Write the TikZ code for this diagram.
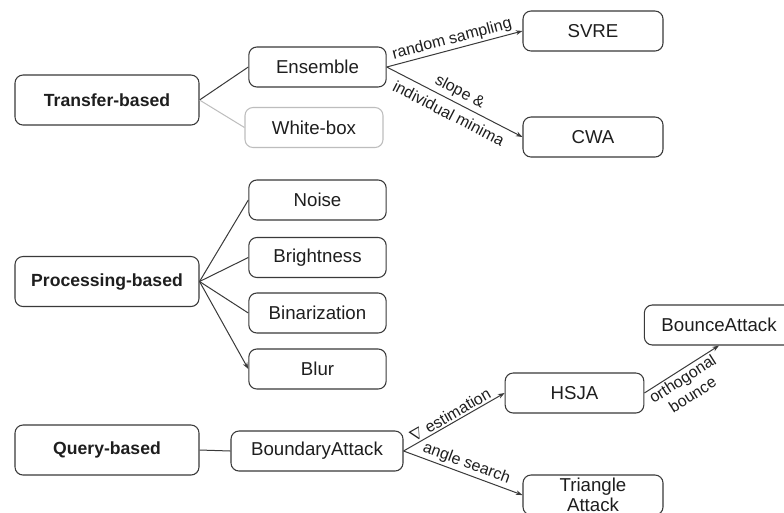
\documentclass[tikz,border=0pt]{standalone}
\usepackage{fontspec}
\setmainfont{Liberation Sans}
\usetikzlibrary{arrows.meta}
\definecolor{edgegray}{HTML}{3A3A3A}
\definecolor{txt}{HTML}{1E1E1E}
\definecolor{faint}{HTML}{BDBDBD}
\tikzset{
  box/.style={draw=edgegray, line width=0.8pt, rounded corners=6pt, fill=white,
    inner sep=0pt, align=center, text=txt, font=\fontsize{14}{15}\selectfont,
    minimum height=30pt},
  rootbox/.style={box, font=\fontsize{13.2}{15}\selectfont\bfseries, minimum width=138pt, minimum height=37.5pt},
  leafbox/.style={box, minimum width=103pt},
  palebox/.style={box, draw=faint},
  link/.style={draw=edgegray, line width=0.75pt},
  palelink/.style={draw=faint, line width=0.75pt},
  arrowlink/.style={link, -{Stealth[length=5pt,width=3.6pt]}},
  lbl/.style={font=\fontsize{12}{14}\selectfont, text=txt, sloped, inner sep=1.5pt, align=center}
}
\begin{document}
\begin{tikzpicture}[x=0.75pt, y=-0.75pt]
\clip (0,0) rectangle (784,512);
\fill[white] (0,0) rectangle (784,512);

% root categories
\node[rootbox] (tb) at (107,100) {Transfer-based};
\node[rootbox] (pb) at (107,281.5) {Processing-based};
\node[rootbox] (qb) at (107,450) {Query-based};

% transfer-based branch
\node[leafbox] (ens) at (317.5,67) {Ensemble};
\node[leafbox, palebox, minimum width=103.5pt] (wb) at (314,127.5) {White-box};
\node[leafbox, minimum width=105pt] (svre) at (593,31) {SVRE};
\node[leafbox, minimum width=105pt] (cwa) at (593,137) {CWA};

% processing-based branch
\node[leafbox] (noise) at (317.5,200) {Noise};
\node[leafbox] (bright) at (317.5,257.5) {Brightness};
\node[leafbox] (binar) at (317.5,313) {Binarization};
\node[leafbox] (blur) at (317.5,369) {Blur};

% query-based branch
\node[leafbox, minimum width=129pt] (ba) at (317,451) {BoundaryAttack};
\node[leafbox, minimum width=104pt] (hsja) at (574.5,393) {HSJA};
\node[leafbox, minimum width=112pt] (bounce) at (719,325) {BounceAttack};
\node[leafbox, minimum width=105pt, font=\fontsize{14}{15}\selectfont] (tri) at (593,495) {Triangle\\Attack};

% connectors
\draw[link] (tb.east) -- (ens.west);
\draw[palelink] (tb.east) -- (wb.west);
\draw[arrowlink] (ens.east) -- node[lbl, above] {random sampling} (svre.west);
\draw[arrowlink] (ens.east) -- node[lbl, pos=0.5] {slope \&\\[5pt]individual minima} (cwa.west);

\draw[link] (pb.east) -- (noise.west);
\draw[link] (pb.east) -- (bright.west);
\draw[link] (pb.east) -- (binar.west);
\draw[arrowlink] (pb.east) -- (blur.west);

\draw[link] (qb.east) -- (ba.west);
\draw[arrowlink] (ba.east) -- node[lbl, above] {$\nabla$ estimation} (hsja.west);
\draw[arrowlink] (ba.east) -- node[lbl, above] {angle search} (tri.west);
\draw[arrowlink] (hsja.east) -- node[lbl, below, pos=0.45] {orthogonal\\bounce} (bounce.south);
\end{tikzpicture}
\end{document}
